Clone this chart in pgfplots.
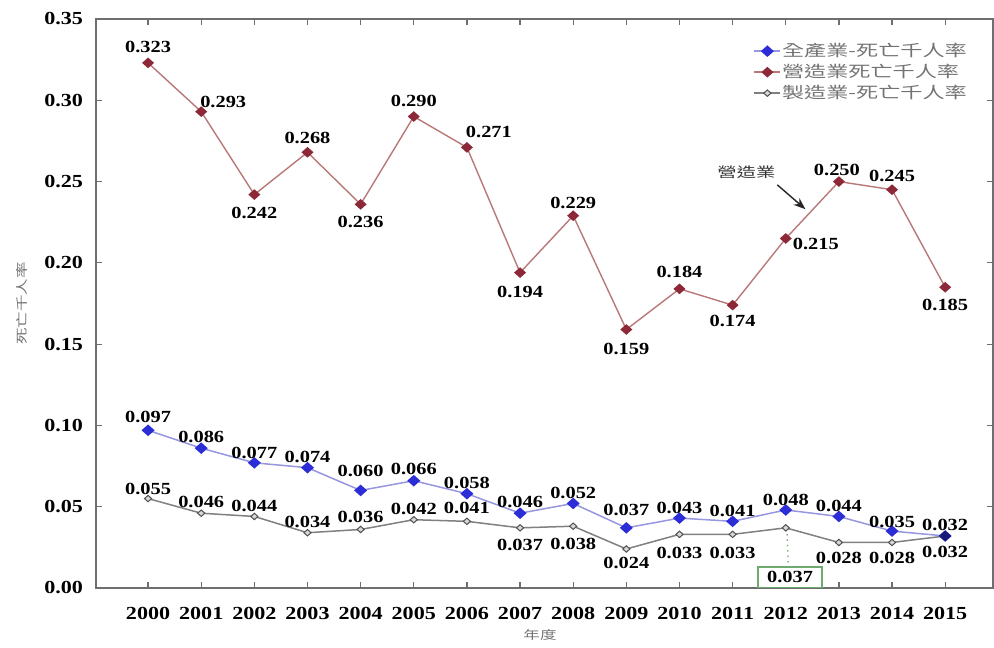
\documentclass[border=0pt]{standalone}
\usepackage{fontspec}
\setmainfont{Liberation Serif}[FakeStretch=1.2]
\newfontfamily\cjk{Noto Sans CJK TC}[FakeStretch=1.4]
\usepackage{pgfplots}
\pgfplotsset{compat=1.18}
\usepackage{pgfplotstable}
\usetikzlibrary{arrows.meta}

\definecolor{allpt}{RGB}{45,45,215}
\definecolor{allln}{RGB}{150,150,225}
\definecolor{allnv}{RGB}{25,25,120}
\definecolor{conpt}{RGB}{140,40,55}
\definecolor{conln}{RGB}{185,120,120}
\definecolor{manpt}{RGB}{80,80,80}
\definecolor{manfl}{RGB}{215,215,215}
\definecolor{manln}{RGB}{128,128,128}
\definecolor{framec}{RGB}{110,110,110}
\definecolor{lblc}{RGB}{115,115,115}
\definecolor{boxg}{RGB}{110,170,110}

% x, y, label offset dx dy (pt), s = label shown
\pgfplotstableread{
x y dx dy s
2000 0.097 0 6.5 1
2001 0.086 0 5.5 1
2002 0.077 0 5 1
2003 0.074 0 5.5 1
2004 0.060 0 9.5 1
2005 0.066 0 6 1
2006 0.058 0 5.5 1
2007 0.046 0 5.5 1
2008 0.052 0 5 1
2009 0.037 0 9 1
2010 0.043 0 5 1
2011 0.041 0 5 1
2012 0.048 0 5 1
2013 0.044 0 5 1
2014 0.035 0 4.5 1
2015 0.032 0 5.5 1
}\allind

\pgfplotstableread{
x y dx dy s
2000 0.323 0 8 1
2001 0.293 11 5 1
2002 0.242 0 -9 1
2003 0.268 0 7 1
2004 0.236 0 -9 1
2005 0.290 0 8 1
2006 0.271 11 7.5 1
2007 0.194 0 -9.5 1
2008 0.229 0 6.5 1
2009 0.159 0 -9.5 1
2010 0.184 0 8.5 1
2011 0.174 0 -8 1
2012 0.215 15 -3 1
2013 0.250 -1 6 1
2014 0.245 0 7 1
2015 0.185 0 -9 1
}\conind

\pgfplotstableread{
x y dx dy s
2000 0.055 0 5 1
2001 0.046 0 5.5 1
2002 0.044 0 5 1
2003 0.034 0 5.5 1
2004 0.036 0 6.5 1
2005 0.042 0 5.5 1
2006 0.041 0 6.5 1
2007 0.037 0 -8.5 1
2008 0.038 0 -9 1
2009 0.024 0 -7 1
2010 0.033 0 -9.5 1
2011 0.033 0 -9.5 1
2012 0.037 0 0 0
2013 0.028 0 -7.5 1
2014 0.028 0 -7.5 1
2015 0.032 0 -8 1
}\manind

\pgfplotsset{
  vlab/.style={
    point meta=y,
    visualization depends on={\thisrow{dx}\as\lbdx},
    visualization depends on={\thisrow{dy}\as\lbdy},
    visualization depends on={\thisrow{s}\as\lbsh},
    nodes near coords={\ifdim\lbsh pt>0.5pt\pgfmathprintnumber[fixed,zerofill,precision=3,assume math mode=true]{\pgfplotspointmeta}\fi},
    every node near coord/.append style={anchor=center, xshift=\lbdx pt, yshift=\lbdy pt,
      inner sep=0pt, text=black, font=\fontsize{8.5}{9}\selectfont\bfseries},
  },
}

\begin{document}
\begin{tikzpicture}
\begin{axis}[
  scale only axis,
  width=448.5pt, height=284.5pt,
  xmin=1999.02, xmax=2015.9,
  ymin=0, ymax=0.35,
  xtick={2000,2001,2002,2003,2004,2005,2006,2007,2008,2009,2010,2011,2012,2013,2014,2015},
  ytick={0,0.05,0.10,0.15,0.20,0.25,0.30,0.35},
  tick align=inside,
  tick pos=both,
  major tick length=3pt,
  tick style={framec, line width=0.6pt},
  axis line style={framec, line width=0.8pt},
  tick label style={font=\fontsize{9.2}{10}\selectfont\bfseries},
  x tick label style={/pgf/number format/1000 sep={}, /pgf/number format/assume math mode=true, yshift=-6pt},
  y tick label style={/pgf/number format/fixed, /pgf/number format/zerofill,
    /pgf/number format/precision=2, /pgf/number format/assume math mode=true, xshift=-3pt},
  xlabel={\cjk 年度},
  ylabel={\cjk 死亡千人率},
  every axis x label/.style={at={(rel axis cs:0.495,0)}, yshift=-23.5pt, anchor=center,
    font=\fontsize{5.9}{6}\selectfont, text=lblc},
  every axis y label/.style={at={(rel axis cs:0,0.5)}, xshift=-37pt, rotate=90, anchor=center,
    font=\fontsize{5.9}{6}\selectfont, text=lblc},
  legend style={at={(rel axis cs:0.726,0.967)}, anchor=north west, draw=none, fill=none,
    font=\cjk\fontsize{7.9}{8}\selectfont, text=lblc, row sep=1.5pt,
    nodes={inner sep=0.5pt, text height=6.5pt, text depth=1.5pt}},
  legend cell align=left,
  legend image code/.code={\draw[mark repeat=2, mark phase=2, #1]
    plot coordinates {(0pt,0pt) (6.5pt,0pt) (13pt,0pt)};},
]

\addplot[allln, line width=0.75pt, mark=diamond*, mark size=2.4pt,
  mark options={xscale=1.5, draw=allpt, fill=allpt}, vlab]
  table[x=x, y=y] {\allind};
\addlegendentry{全產業-死亡千人率}

\addplot[conln, line width=0.7pt, mark=diamond*, mark size=2.2pt,
  mark options={xscale=1.5, draw=conpt, fill=conpt}, vlab]
  table[x=x, y=y] {\conind};
\addlegendentry{營造業死亡千人率}

\addplot[manln, line width=0.75pt, mark=diamond*, mark size=1.6pt,
  mark options={xscale=1.5, draw=manpt, fill=manfl, line width=0.5pt}, vlab]
  table[x=x, y=y] {\manind};
\addlegendentry{製造業-死亡千人率}

% 2015: blue point over the grey one
\addplot[only marks, mark=diamond*, mark size=2.4pt,
  mark options={xscale=1.5, draw=allnv, fill=allnv}, forget plot]
  coordinates {(2015,0.032)};

% 2012 manufacturing call-out
\draw[boxg, dotted, line width=0.7pt] (axis cs:2012.02,0.0365) -- (axis cs:2012.05,0.0128);
\node[draw=boxg, line width=0.6pt, fill=white, minimum width=32pt, minimum height=10.5pt,
  inner sep=0pt, font=\fontsize{8.5}{9}\selectfont\bfseries]
  at (axis cs:2012.08,0.0065) {0.037};

% construction arrow
\node[font=\cjk\fontsize{6.9}{7}\selectfont, text=black!80] at (axis cs:2011.26,0.2559) {營造業};
\draw[-{Stealth[length=6pt,width=4.5pt]}, line width=0.7pt, black!85]
  (axis cs:2011.84,0.2480) -- (axis cs:2012.37,0.2330);

\end{axis}
\path ([shift={(-48pt,-29.5pt)}]current axis.south west) rectangle ([shift={(0.5pt,9.5pt)}]current axis.north east);
\end{tikzpicture}
\end{document}
